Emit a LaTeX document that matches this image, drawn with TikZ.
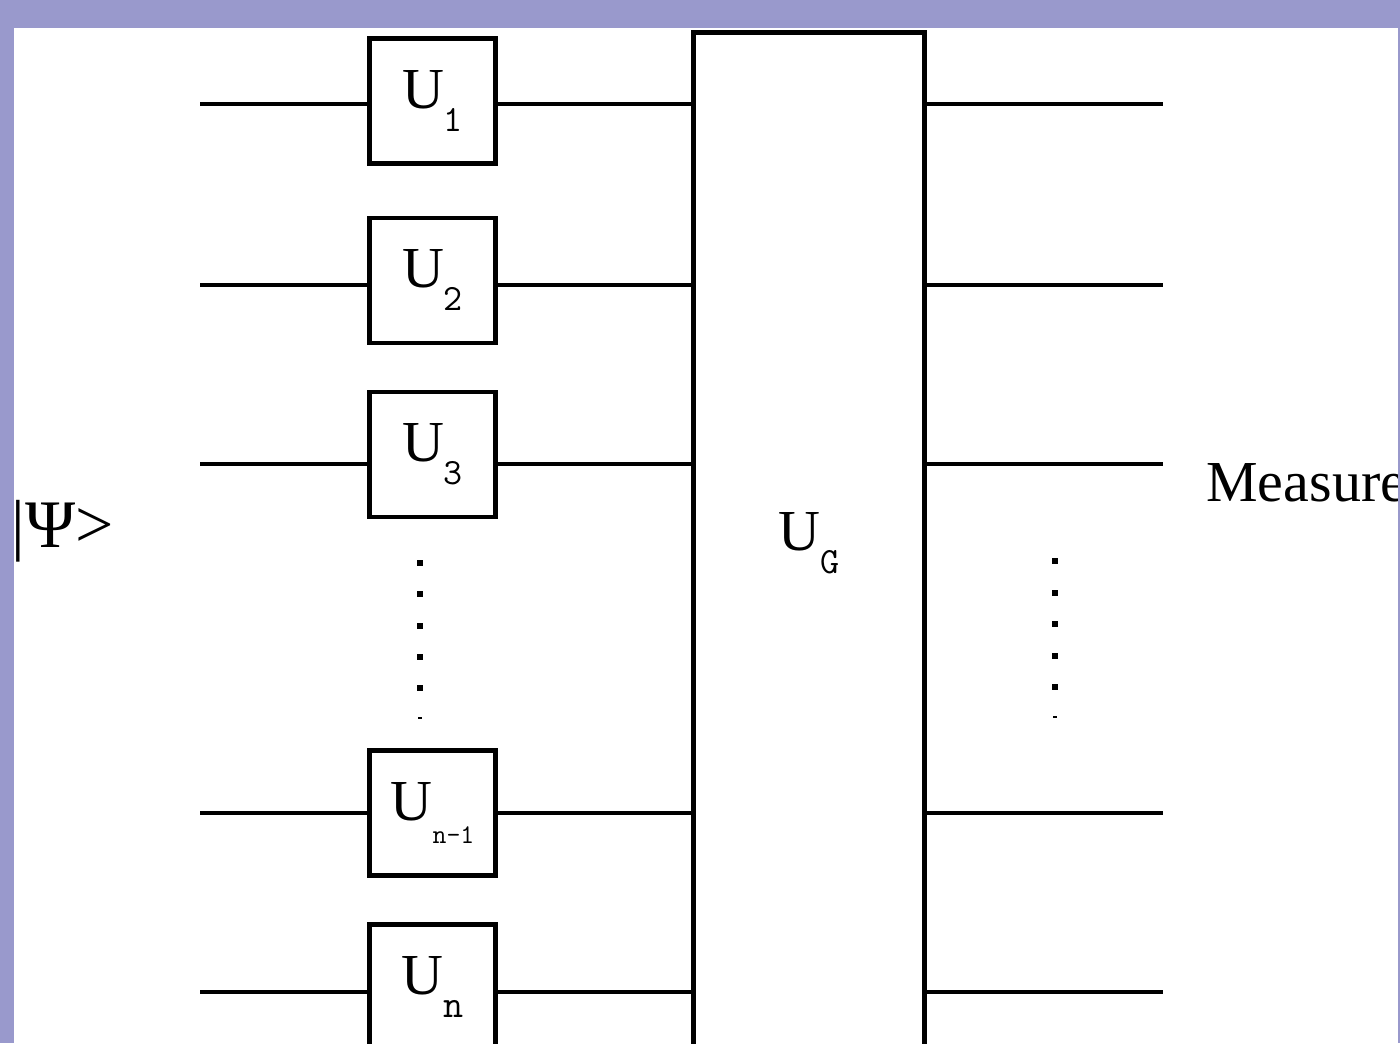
\documentclass[tikz,border=0pt]{standalone}
\usepackage{fontspec}
\setmainfont{Liberation Serif}
\usetikzlibrary{positioning}
\definecolor{frame}{HTML}{9999CC}
\tikzset{
	gate/.style={draw, line width=2.4pt, minimum width=63pt, minimum height=62.5pt, inner sep=0pt},
	bigbox/.style={draw, line width=2.4pt, minimum width=115.75pt, minimum height=510.5pt, inner sep=0pt},
	wire/.style={line width=2.4pt},
}
\newcommand{\gatelabel}[2]{U\raisebox{-11.5pt}{\fontsize{#1}{#1}\ttfamily #2}}
\begin{document}
\begin{tikzpicture}[x=0.5pt, y=-0.5pt, font=\fontsize{29}{32}\selectfont, line cap=butt]
	\useasboundingbox (0,0) rectangle (1400,1043);
	\fill[frame] (0,0) rectangle (1400,1043);
	\fill[white] (14,28) rectangle (1398,1043);
	% gates
	\path
	(432.5,101) node[gate] (u1) {\gatelabel{18.5}{1}}
	(432.5,280.5) node[gate] (u2) {\gatelabel{18.5}{2}}
	(432.5,454.5) node[gate] (u3) {\gatelabel{18.5}{3}}
	(432.5,813) node[gate] (un1) {\gatelabel{13.5}{n-1}}
	(432.5,987) node[gate] (un) {\gatelabel{19.5}{n}}
	(809,543) node[bigbox] (ug) {\gatelabel{18.5}{G}};
	% wires
	\path
	(200,104) coordinate (w1) (1163,104) coordinate (e1)
	(200,285) coordinate (w2) (1163,285) coordinate (e2)
	(200,464) coordinate (w3) (1163,464) coordinate (e3)
	(200,813) coordinate (w4) (1163,813) coordinate (e4)
	(200,992) coordinate (w5) (1163,992) coordinate (e5);
	\foreach \i/\g in {1/u1,2/u2,3/u3,4/un1,5/un}{
		\draw[wire] (w\i) -- (w\i -| \g.west) (w\i -| \g.east) -- (w\i -| ug.west) (e\i -| ug.east) -- (e\i);
	}
	% dots
	\foreach \k in {0,...,4}{
		\fill (417,{560+31.3*\k}) rectangle ++(6,6);
		\fill (1052,{558+31.5*\k}) rectangle ++(6,6);
	}
	\fill (418,717) rectangle ++(4,2);
	\fill (1053,716) rectangle ++(4,2);
	% labels
	\node[anchor=base west, inner sep=0pt, font=\fontsize{34}{36}\selectfont] (psi) at (11,547) {|Ψ>};
	\node[anchor=base west, inner sep=0pt] (meas) at (1206,501) {Measure};
	\fill[frame] (1398,0) rectangle (1400,1043);
\end{tikzpicture}
\end{document}
